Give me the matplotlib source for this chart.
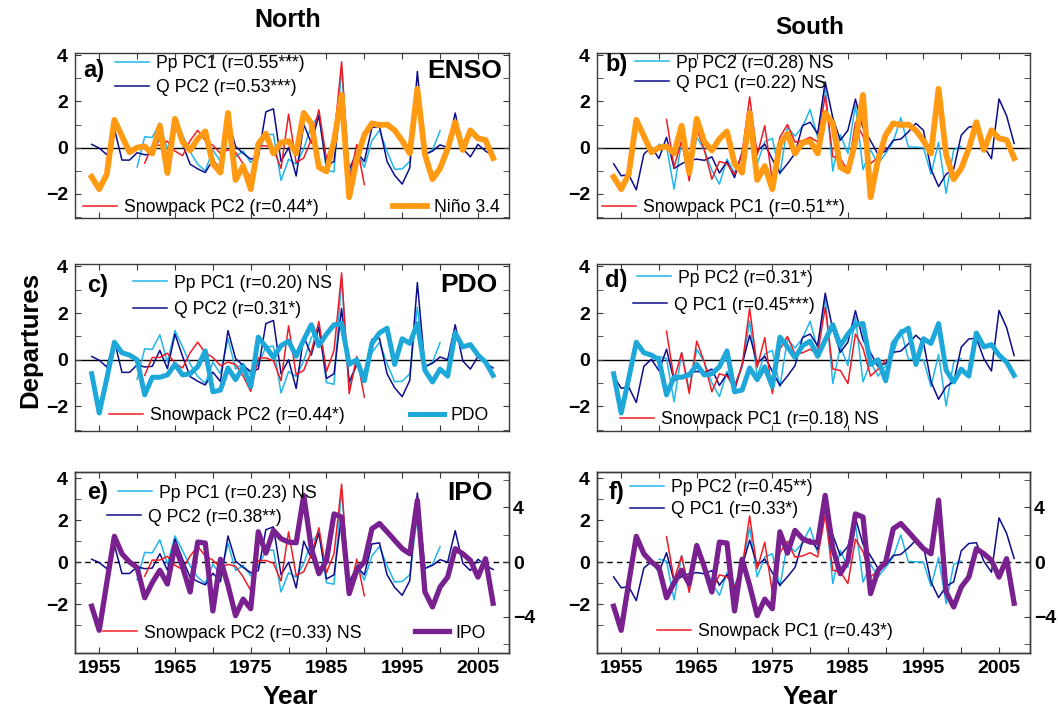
import numpy as np
import matplotlib
matplotlib.use("Agg")
import matplotlib.pyplot as plt
from matplotlib.legend import Legend

plt.rcParams['font.family'] = ['Liberation Sans', 'DejaVu Sans']

years = np.arange(1954, 2008)
pp_years = np.arange(1960, 2001)
snow_years = np.arange(1961, 1991)

# climate indices 1954-2007
nino34 = [-1.27, -1.8, -1.15, 1.2, 0.5, -0.2, 0.0, 0.05, -0.25, 0.95,
          -1.1, 1.25, 0.25, -0.12, 0.38, 0.7, -0.7, -1.08, 1.5, -1.4,
          -0.8, -1.8, 0.15, 0.6, -0.25, 0.22, 0.28, -0.25, 1.5, 1.05,
          -0.85, -1.03, 0.28, 2.28, -2.15, -0.5, 0.55, 1.05, 0.98, 1.0,
          0.75, 0.3, -0.25, 2.55, -0.3, -1.37, -0.9, -0.05, 1.1, -0.1,
          0.75, 0.4, 0.33, -0.45]
pdo = [-0.6, -2.28, -0.8, 0.75, 0.3, 0.2, 0.0, -1.5, -0.75, -0.75,
       -0.65, -0.2, -0.65, -0.6, -0.3, 0.38, -1.37, -1.3, -0.35, -0.85,
       -0.3, -1.15, 0.97, 0.55, 0.1, 0.6, 0.8, 0.15, 0.85, 1.5,
       0.6, 1.1, 1.5, 1.55, -0.2, 0.0, -0.9, 0.7, 1.15, 1.35,
       -0.2, 0.9, 0.7, 1.55, -0.45, -0.95, -0.4, -0.7, 1.15, 0.55,
       0.65, 0.2, -0.1, -0.67]
ipo = [-3.22, -4.97, -1.5, 1.87, 0.6, 0.0, -0.4, -2.6, -1.5, -0.6,
       -1.6, 1.2, -0.36, -2.18, 1.45, 1.38, -3.56, 0.2, -1.7, -3.9,
       -2.7, -3.4, 2.2, 0.65, 2.3, 1.7, 1.45, 1.4, 4.85, 1.0,
       -0.85, 0.1, 3.5, 3.27, -2.3, -0.6, 0.0, 2.42, 2.8, 2.2,
       1.58, 0.97, 0.6, 4.5, -2.18, -3.27, -1.82, -1.1, 0.97, 0.6,
       0.12, -1.1, 0.24, -3.0]

# North
q_north = [0.14, -0.02, -0.31, 0.82, -0.54, -0.54, -0.22, -0.31, -0.28, 0.4,
           -0.38, 1.1, 0.15, -0.72, -0.92, -1.08, -0.53, -0.93, 1.25, 0.05,
           -0.25, -0.5, -0.4, 1.55, 1.68, -0.6, 0.0, -1.23, 1.0, 0.2,
           1.4, -0.8, -0.6, 2.2, -0.95, -0.2, -0.6, 0.87, 0.92, -0.6,
           -1.2, -1.58, -0.88, 3.3, -0.3, -0.15, 0.12, 0.0, 1.5, -0.05,
           -0.4, 0.14, -0.15, -0.35]
pp_north = [-0.84, 0.47, 0.44, 1.07, -0.1, 1.25, 0.55, -0.18, -0.72, -1.0,
            -0.1, -0.6, 0.9, -0.4, -0.15, -0.65, -0.2, 0.55, 0.58, -1.42,
            -0.5, -0.72, -0.05, 0.95, 1.4, -0.98, -1.05, 3.5, -1.2, -0.15,
            -0.85, 0.3, 0.75, -0.17, -0.94, -0.92, -0.6, 2.25, -0.3, -0.1,
            0.73]
snow_north = [-0.67, 0.1, 0.1, 0.28, -0.15, -0.35, 0.3, 0.75, 0.3, 0.1,
              -0.25, -0.1, -0.2, -0.7, -1.35, 0.08, 0.08, -0.05, -0.9, 1.45,
              -0.65, -0.45, 0.35, 1.64, -0.5, 0.4, 3.72, -1.45, 0.14, -1.6]

# South
q_south = [-0.7, -1.22, -1.17, -1.83, -0.28, 0.02, -0.47, 0.45, -0.9, -0.7,
           -0.55, -0.5, -0.55, -0.4, -1.1, -0.6, -1.3, -0.2, 1.05, -0.15,
           0.15, -0.5, -1.1, -0.7, -0.25, 0.95, 1.1, 0.6, 2.85, 1.3,
           0.32, 0.75, 2.1, 0.85, 0.3, -0.3, -0.15, 0.32, 0.37, 0.68,
           1.05, 0.75, -0.94, -1.69, -1.15, -0.94, 0.54, 0.89, 0.93, 0.04,
           -0.48, 2.11, 1.38, 0.18]
pp_south = [0.14, 0.05, -1.8, 0.3, -1.3, 0.45, -0.1, -0.98, -1.58, -0.5,
            -1.1, -0.3, 1.65, -0.7, 0.25, 0.4, -1.15, 0.88, 0.5, 0.92,
            1.65, 0.45, 2.7, -1.02, 0.56, -0.25, 1.85, -0.95, -0.1, -0.7,
            -0.25, 0.25, 1.3, 0.03, 0.02, 0.0, -1.15, 0.23, -1.98, -0.1,
            0.05]
snow_south = [1.22, -0.84, 0.3, -1.44, 0.8, -0.1, -1.37, -0.6, -0.7, -1.16,
              -0.25, 2.2, -0.32, 0.95, -1.44, 0.45, 1.0, 0.24, 0.3, 0.45,
              0.25, 2.25, -0.39, -0.46, -1.02, 1.1, 0.5, -0.7, -0.4, 0.0]

c_pp = '#22b5e9'
c_q = '#0d0d8c'
c_snow = '#ee1c24'
c_nino = '#ff9a12'
c_pdo = '#1ea8da'
c_ipo = '#7a2190'

W, H = 1058, 709
fig = plt.figure(figsize=(W / 100, H / 100), dpi=100)
fig.patch.set_facecolor('white')


def box(l, t, r, b):
    return [l / W, 1 - b / H, (r - l) / W, (b - t) / H]


def fxy(px, py):
    return px / W, 1 - py / H


cols = [(75, 509), (597, 1030)]
rows = [(53, 218), (264, 431), (472, 653)]

panels = [
    dict(r=0, c=0, letter='a)', lpos=(83, 71), name='ENSO', npos=(502, 71),
         idx=nino34, icol=c_nino, ilw=4.2, ilab='Niño 3.4',
         labs=['Pp PC1 (r=0.55***)', 'Q PC2 (r=0.53***)', 'Snowpack PC2 (r=0.44*)'],
         pos=[(115, 64), (115, 88), (83, 208), (393, 208)]),
    dict(r=0, c=1, letter='b)', lpos=(605, 65), name=None,
         idx=nino34, icol=c_nino, ilw=4.2, ilab=None,
         labs=['Pp PC2 (r=0.28) NS', 'Q PC1 (r=0.22) NS', 'Snowpack PC1 (r=0.51**)'],
         pos=[(635, 63), (635, 83), (602, 208)]),
    dict(r=1, c=0, letter='c)', lpos=(87, 285), name='PDO', npos=(497, 285),
         idx=pdo, icol=c_pdo, ilw=3.6, ilab='PDO',
         labs=['Pp PC1 (r=0.20) NS', 'Q PC2 (r=0.31*)', 'Snowpack PC2 (r=0.44*)'],
         pos=[(133, 283), (133, 310), (109, 416), (410, 416)]),
    dict(r=1, c=1, letter='d)', lpos=(605, 280), name=None,
         idx=pdo, icol=c_pdo, ilw=3.6, ilab=None,
         labs=['Pp PC2 (r=0.31*)', 'Q PC1 (r=0.45***)', 'Snowpack PC1 (r=0.18) NS'],
         pos=[(637, 278), (633, 305), (620, 420)]),
    dict(r=2, c=0, letter='e)', lpos=(87, 493), name='IPO', npos=(493, 493),
         idx=ipo, icol=c_ipo, ilw=3.8, ilab='IPO',
         labs=['Pp PC1 (r=0.23) NS', 'Q PC2 (r=0.38**)', 'Snowpack PC2 (r=0.33) NS'],
         pos=[(118, 493), (107, 517), (103, 633), (415, 633)]),
    dict(r=2, c=1, letter='f)', lpos=(609, 493), name=None,
         idx=ipo, icol=c_ipo, ilw=3.8, ilab=None,
         labs=['Pp PC2 (r=0.45**)', 'Q PC1 (r=0.33*)', 'Snowpack PC1 (r=0.43*)'],
         pos=[(630, 488), (630, 510), (657, 632)]),
]

spine_col = '#3a3a3a'


def style(ax):
    for s in ax.spines.values():
        s.set_color(spine_col)
        s.set_linewidth(1.0)


def entry(ax, line, label, hx, cy):
    x, y = fxy(hx, cy)
    lg = Legend(ax, [line], [label], loc='center left', bbox_to_anchor=(x, y),
                bbox_transform=fig.transFigure, frameon=False, borderpad=0,
                borderaxespad=0, handlelength=1.95, handletextpad=0.35,
                fontsize=12.7)
    ax.add_artist(lg)


for p in panels:
    l, r = cols[p['c']]
    t, b = rows[p['r']]
    ax = fig.add_axes(box(l, t, r, b))
    style(ax)
    if p['c'] == 0:
        q, pp, sn = q_north, pp_north, snow_north
    else:
        q, pp, sn = q_south, pp_south, snow_south

    l1, = ax.plot(pp_years, pp, color=c_pp, lw=1.1)
    l2, = ax.plot(years, q, color=c_q, lw=1.1)
    l3, = ax.plot(snow_years, sn, color=c_snow, lw=1.1)

    ax.set_xlim(1951.8, 2009.1)
    ax.set_xticks(np.arange(1955, 2010, 5))
    if p['r'] == 2:
        ax.set_xticklabels([str(y) if (y - 1955) % 10 == 0 else '' for y in range(1955, 2010, 5)])
        ax.set_ylim(-4.33, 4.3)
        ax.axhline(0, color='k', lw=1.0, ls=(0, (4, 3)), zorder=1)
        ax2 = ax.twinx()
        style(ax2)
        li, = ax2.plot(years, p['idx'], color=p['icol'], lw=p['ilw'])
        ax2.set_ylim(-6.62, 6.55)
        ax2.set_yticks([-4, 0, 4])
        ax2.set_yticks([-6, -2, 2, 6], minor=True)
        ax2.tick_params(axis='y', which='both', direction='in', length=4.5,
                        labelsize=14, pad=3, colors=spine_col, labelcolor='k')
        for tl in ax2.get_yticklabels():
            tl.set_fontweight('bold')
        ax.tick_params(axis='y', which='both', right=False)
        top_ax = ax2
    else:
        ax.set_xticklabels([])
        ax.set_ylim(-3.05, 4.1)
        ax.axhline(0, color='k', lw=1.0, zorder=1)
        li, = ax.plot(years, p['idx'], color=p['icol'], lw=p['ilw'])
        ax.tick_params(axis='y', which='both', right=True)
        top_ax = ax

    ax.set_yticks([-2, 0, 2, 4])
    ax.set_yticks([-3, -1, 1, 3], minor=True)
    ax.tick_params(which='both', direction='in', length=4.5, top=True,
                   labelsize=14, colors=spine_col, labelcolor='k', pad=5)
    for tl in ax.get_yticklabels() + ax.get_xticklabels():
        tl.set_fontweight('bold')

    entry(top_ax, l1, p['labs'][0], *p['pos'][0])
    entry(top_ax, l2, p['labs'][1], *p['pos'][1])
    entry(top_ax, l3, p['labs'][2], *p['pos'][2])
    if p['ilab']:
        entry(top_ax, li, p['ilab'], *p['pos'][3])

    fig.text(*fxy(*p['lpos']), p['letter'], fontsize=17, fontweight='bold',
             ha='left', va='center')
    if p['name']:
        fig.text(*fxy(*p['npos']), p['name'], fontsize=19, fontweight='bold',
                 ha='right', va='center')

fig.text(*fxy(288, 20), 'North', fontsize=18, fontweight='bold', ha='center', va='center')
fig.text(*fxy(810, 27), 'South', fontsize=17.5, fontweight='bold', ha='center', va='center')
fig.text(*fxy(30, 340), 'Departures', fontsize=18.5, fontweight='bold', ha='center',
         va='center', rotation=90)
fig.text(*fxy(290, 697), 'Year', fontsize=19, fontweight='bold', ha='center', va='center')
fig.text(*fxy(810, 697), 'Year', fontsize=19, fontweight='bold', ha='center', va='center')

fig.savefig('out.png', dpi=100, facecolor='white')
